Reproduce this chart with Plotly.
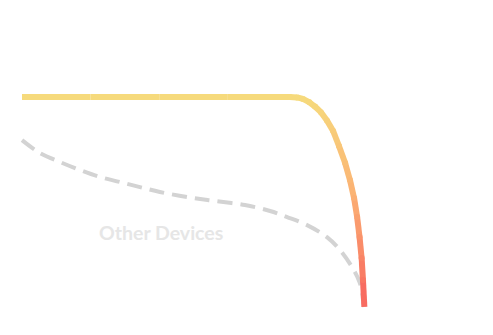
import plotly.graph_objects as go
from plotly.colors import sample_colorscale

# Main device curve (flat then dropping)
main_x = [0, 20, 40, 60, 78.1, 80.2, 81.9, 83.7, 85.4, 87.2, 88.9, 90.7, 92.4, 94.2, 95.6, 96.8, 97.7, 98.4, 99.0, 99.4, 99.8]
main_y = [100, 100, 100, 100, 100.0, 99.8, 99.1, 97.6, 95.5, 92.7, 88.9, 83.9, 76.8, 68.7, 60.7, 52.1, 43.1, 33.6, 23.7, 13.3, 0.5]

# Other devices curve (dashed)
other_x = [0, 5.2, 11.1, 16.9, 22.7, 28.6, 34.4, 40.2, 49.9, 56.3, 65.0, 72.3, 77.3, 83.1, 88.9, 92.7, 96.2, 98.5, 99.7]
other_y = [79.6, 73.5, 69.2, 65.4, 62.1, 59.7, 57.3, 55.0, 52.1, 50.7, 48.8, 46.0, 43.1, 39.3, 33.6, 27.5, 19.4, 11.8, 0.5]

label_text = "Other Devices"

gradient = [[0, "#f6da7c"], [0.45, "#fbb374"], [1, "#f8625e"]]

fig = go.Figure()

fig.add_trace(go.Scatter(
    x=other_x, y=other_y, mode="lines",
    line=dict(color="#d3d3d3", width=4, dash="15px,8px", shape="spline"),
    hoverinfo="skip", showlegend=False))

def col(y):
    t = min(max((100 - y) / 100, 0), 1)
    return sample_colorscale(gradient, [t])[0]

for i in range(len(main_x) - 1):
    c = col((main_y[i] + main_y[i + 1]) / 2)
    fig.add_trace(go.Scatter(
        x=main_x[i:i + 2], y=main_y[i:i + 2], mode="lines",
        line=dict(color=c, width=6),
        hoverinfo="skip", showlegend=False))

fig.add_trace(go.Scatter(
    x=main_x[4:-1], y=main_y[4:-1], mode="markers",
    marker=dict(size=6, color=[col(v) for v in main_y[4:-1]], line=dict(width=0)),
    hoverinfo="skip", showlegend=False))

fig.add_annotation(x=40.5, y=35.6, text=label_text, showarrow=False,
                   font=dict(family="Lato", size=19.5, color="#e6e6e6", weight="bold"))

fig.update_layout(
    width=493, height=335,
    margin=dict(l=0, r=0, t=0, b=0),
    paper_bgcolor="white", plot_bgcolor="white",
    xaxis=dict(range=[-6.41, 137.3], visible=False, fixedrange=True),
    yaxis=dict(range=[-12.8, 146.0], visible=False, fixedrange=True),
)

fig.write_html("out.html")
